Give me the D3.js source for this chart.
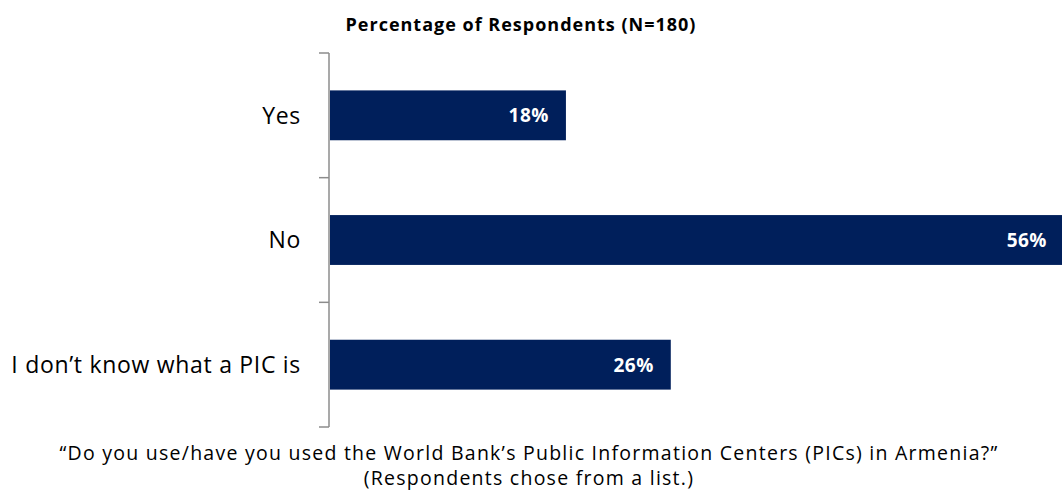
<!DOCTYPE html>
<html>
<head>
<meta charset="utf-8">
<script src="https://cdn.jsdelivr.net/npm/d3@7"></script>
<style>
  body { margin: 0; background: #fff; }
  svg { display: block; font-family: "Open Sans", sans-serif; }
</style>
</head>
<body>
<div id="chart"></div>
<script>
// Data
const categories = ["Yes", "No", "I don\u2019t know what a PIC is"];
const values = [18, 56, 26];
const title = "Percentage of Respondents (N=180)";
const footnotes = [
    "\u201cDo you use/have you used the World Bank\u2019s Public Information Centers (PICs) in Armenia?\u201d",
    "(Respondents chose from a list.)"
];

// Dimensions
const width = 1062, height = 502;
const axisX = 330, plotTop = 53, plotBottom = 427;

const svg = d3.select("#chart")
    .append("svg")
    .attr("width", width)
    .attr("height", height);

// Scales
const x = d3.scaleLinear().domain([0, 56]).range([axisX, 1064]);
const y = d3.scaleBand().domain(categories).range([plotTop, plotBottom]).paddingInner(0.6).paddingOuter(0.3);

// Bars
svg.selectAll("rect.bar")
    .data(values)
    .join("rect")
    .attr("class", "bar")
    .attr("x", x(0))
    .attr("y", (d, i) => y(categories[i]))
    .attr("width", d => x(d) - x(0))
    .attr("height", y.bandwidth())
    .attr("fill", "#001f5b");

// Value labels
svg.selectAll("text.val")
    .data(values)
    .join("text")
    .attr("class", "val")
    .attr("x", d => x(d) - 17)
    .attr("y", (d, i) => y(categories[i]) + y.bandwidth() / 2)
    .attr("dy", "0.36em")
    .attr("text-anchor", "end")
    .attr("fill", "#fff")
    .style("font-weight", "bold")
    .style("font-size", "19px")
    .style("letter-spacing", "0.5px")
    .text(d => d + "%");

// Category axis
const step = (plotBottom - plotTop) / categories.length;
const tickYs = d3.range(categories.length + 1).map(i => plotTop + i * step);
svg.append("line")
    .attr("x1", axisX - 1).attr("x2", axisX - 1)
    .attr("y1", plotTop).attr("y2", plotBottom)
    .attr("stroke", "#8c8c8c").attr("stroke-width", 1.5);
svg.selectAll("line.tick")
    .data(tickYs)
    .join("line")
    .attr("class", "tick")
    .attr("x1", axisX - 11).attr("x2", axisX - 1)
    .attr("y1", d => d).attr("y2", d => d)
    .attr("stroke", "#8c8c8c").attr("stroke-width", 1.5);

svg.selectAll("text.cat")
    .data(categories)
    .join("text")
    .attr("class", "cat")
    .attr("x", 301)
    .attr("y", d => y(d) + y.bandwidth() / 2)
    .attr("dy", "0.36em")
    .attr("text-anchor", "end")
    .attr("fill", "#000")
    .style("font-size", "23px")
    .style("letter-spacing", "0.7px")
    .text(d => d);

// Title
svg.append("text")
    .attr("x", 521)
    .attr("y", 31)
    .attr("text-anchor", "middle")
    .style("font-weight", "bold")
    .style("font-size", "18px")
    .style("letter-spacing", "1px")
    .text(title);

// Footnote
svg.selectAll("text.foot")
    .data(footnotes)
    .join("text")
    .attr("class", "foot")
    .attr("x", 529)
    .attr("y", (d, i) => 460 + i * 25)
    .attr("text-anchor", "middle")
    .style("font-size", "19.5px")
    .style("letter-spacing", "1.25px")
    .text(d => d);
</script>
</body>
</html>
